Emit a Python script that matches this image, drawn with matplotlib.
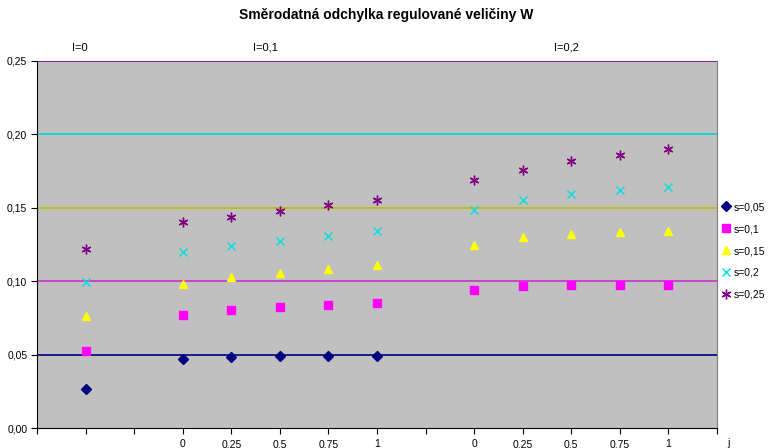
import numpy as np
import matplotlib
matplotlib.use("Agg")
import matplotlib.pyplot as plt

plt.rcParams['font.family'] = ['Liberation Sans', 'DejaVu Sans']

# data: positions on the category axis (0..14), groups I=0, I=0,1, I=0,2
x_pos = [1, 3, 4, 5, 6, 7, 9, 10, 11, 12, 13]
tick_labels = ['', '', '', '0', '0,25', '0,5', '0,75', '1', '',
               '0', '0,25', '0,5', '0,75', '1', '']
group_labels = ['I=0', 'I=0,1', 'I=0,2']
series_names = ['s=0,05', 's=0,1', 's=0,15', 's=0,2', 's=0,25']

s005 = [0.0268, 0.0470, 0.0486, 0.0491, 0.0491, 0.0491,
        np.nan, np.nan, np.nan, np.nan, np.nan]
s010 = [0.0525, 0.0770, 0.0804, 0.0825, 0.0836, 0.0850,
        0.0937, 0.0968, 0.0971, 0.0971, 0.0971]
s015 = [0.0761, 0.0984, 0.1027, 0.1057, 0.1084, 0.1109,
        0.1246, 0.1300, 0.1323, 0.1334, 0.1343]
s020 = [0.0993, 0.1200, 0.1237, 0.1273, 0.1307, 0.1341,
        0.1482, 0.1550, 0.1593, 0.1623, 0.1643]
s025 = [0.1216, 0.1405, 0.1439, 0.1477, 0.1516, 0.1553,
        0.1687, 0.1757, 0.1816, 0.1862, 0.1898]

fig = plt.figure(figsize=(7.72, 4.48), dpi=100)
ax = fig.add_axes([37/772, 20/448, 680/772, 367/448])
ax.set_facecolor('#C0C0C0')

# colored horizontal gridlines
grid_vals = [0.05, 0.10, 0.15, 0.20, 0.25]
grid_cols = ['#000080', '#CC33CC', '#BDBD00', '#00D8D8', '#800080']
for gv, gc in zip(grid_vals, grid_cols):
    ax.axhline(gv, color=gc, lw=1.2, zorder=1)

fs = 7.5
ax.plot(x_pos, s005, ls='none', marker='D', ms=5, color='#000080', label=series_names[0], zorder=3)
ax.plot(x_pos, s010, ls='none', marker='s', ms=5.5, color='#FF00FF', label=series_names[1], zorder=3)
ax.plot(x_pos, s015, ls='none', marker='^', ms=6, color='#FFFF00', label=series_names[2], zorder=3)
ax.plot(x_pos, s020, ls='none', marker='x', ms=6, mew=1.0, color='#00E0E0', label=series_names[3], zorder=3)
ax.plot(x_pos, s025, ls='none', marker=(6, 2, 0), ms=7, mew=1.0, color='#800080', label=series_names[4], zorder=3)

ax.set_xlim(0, 14)
ax.set_ylim(0, 0.25)
ax.set_xticks(range(15))
ax.set_xticklabels(tick_labels, fontsize=fs)
yt = [0, 0.05, 0.10, 0.15, 0.20, 0.25]
ax.set_yticks(yt)
ax.set_yticklabels([f'{v:.2f}'.replace('.', ',') for v in yt], fontsize=fs)
ax.tick_params(axis='both', direction='out', length=4, width=0.8, color='black', pad=3)
ax.tick_params(axis='x', pad=4)

ax.spines['top'].set_visible(False)
ax.spines['right'].set_color('#808080')
ax.spines['left'].set_color('black')
ax.spines['bottom'].set_color('black')

# group labels above the plot
for gx, gl in zip([0.885, 4.71, 10.89], group_labels):
    ax.text(gx, 0.2589, gl, ha='center', va='center', fontsize=fs + 0.5, clip_on=False)
ax.text(14.2, -0.0103, 'j', ha='left', va='center', fontsize=fs, clip_on=False)

fig.text(0.5, 1 - 15/448, 'Směrodatná odchylka regulované veličiny W',
         ha='center', va='center', fontsize=10, fontweight='bold')

fig.legend(loc='center left', bbox_to_anchor=(722/772, 1 - 251/448), frameon=False,
           fontsize=fs, handlelength=0.8, handletextpad=0.3, labelspacing=1.15,
           borderaxespad=0, borderpad=0)

fig.savefig('out.png', dpi=100)
